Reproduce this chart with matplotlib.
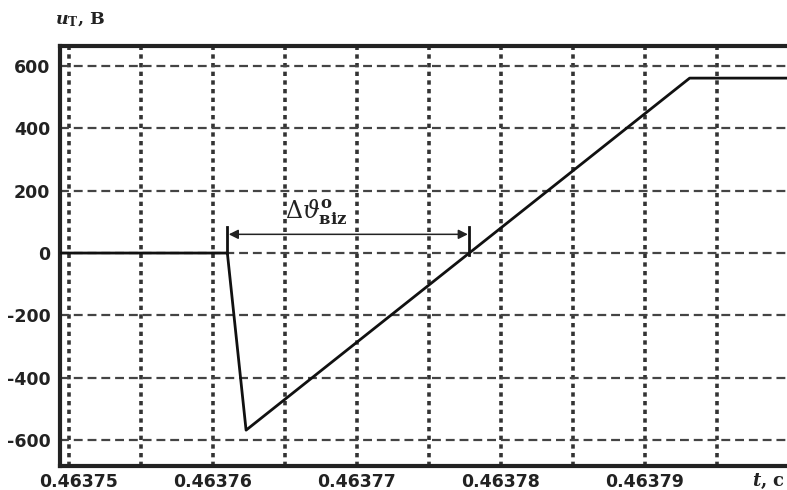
import matplotlib
matplotlib.use("Agg")
import matplotlib.pyplot as plt
import matplotlib.transforms as mtransforms
import numpy as np

# Transistor voltage waveform u_T(t)
t = [0.4637494, 0.4637610, 0.4637623, 0.4637931, 0.4638008]
u = [0, 0, -568, 561, 561]

x_ticks = [0.46375, 0.46376, 0.46377, 0.46378, 0.46379]
x_tick_labels = ["0.46375", "0.46376", "0.46377", "0.46378", "0.46379"]
x_minor = [0.463755, 0.463765, 0.463775, 0.463785, 0.463795, 0.46380]
y_ticks = [-600, -400, -200, 0, 200, 400, 600]

# interval marked on the plot: from switching instant to zero crossing
t_switch = t[1]
t_zero = t[2] + (0 - u[2]) / (u[3] - u[2]) * (t[3] - t[2])
arrow_level = 60

plt.rcParams["mathtext.fontset"] = "custom"
plt.rcParams["mathtext.rm"] = "DejaVu Serif"
plt.rcParams["mathtext.it"] = "DejaVu Serif:italic"
plt.rcParams["mathtext.bf"] = "DejaVu Serif:bold"
plt.rcParams["mathtext.bfit"] = "DejaVu Serif:italic:bold"

W, H = 787, 490
fig = plt.figure(figsize=(W / 100, H / 100), dpi=100)
ax = fig.add_axes([60 / W, 1 - 466 / H, 740 / W, 420 / H])

ax.set_xlim(0.46374938, 0.46380076)
ax.set_ylim(-683, 664)

grid_col = "#333333"
for xv in x_ticks + x_minor:
    ax.axvline(xv, color=grid_col, lw=2.6, ls=(0, (1.2, 1.2)), zorder=1)
for yv in y_ticks:
    ax.axhline(yv, color="#444444", lw=1.6, ls=(0, (4, 2.2)), zorder=1)

ax.plot(t, u, color="#111111", lw=2.0, zorder=3)

# dimension line for the interval
ax.plot([t_switch, t_switch], [0, arrow_level + 22], color="#111111", lw=2.0, zorder=3)
ax.plot([t_zero, t_zero], [-5, arrow_level + 25], color="#111111", lw=2.0, zorder=3)
ax.annotate("", xy=(t_switch, arrow_level), xytext=(t_zero, arrow_level),
            arrowprops=dict(arrowstyle="<|-|>", color="#222222", lw=1.1,
                            mutation_scale=14, shrinkA=1, shrinkB=1), zorder=3)
ax.text(0.46376500, arrow_level + 22, r"$\Delta\vartheta^{\mathbf{o}}_{\mathbf{віz}}$",
        fontsize=17, color="#222222", ha="left", va="bottom")

ax.set_xticks(x_ticks)
ax.set_xticklabels(x_tick_labels)
ax.set_yticks(y_ticks)
ax.set_yticklabels([str(v) for v in y_ticks])
ax.tick_params(length=0, labelsize=12.5, labelcolor="#222222")
for lab in ax.get_xticklabels() + ax.get_yticklabels():
    lab.set_fontweight("bold")
    lab.set_family("DejaVu Sans")
ax.tick_params(axis="x", pad=5)
ax.tick_params(axis="y", pad=7)

# nudge the first x label so it clears the left border
first = ax.get_xticklabels()[0]
first.set_transform(first.get_transform() +
                    mtransforms.ScaledTranslation(10 / 100, 0, fig.dpi_scale_trans))

for side in ["left", "top", "bottom"]:
    ax.spines[side].set_linewidth(3)
    ax.spines[side].set_color("#222222")
ax.spines["right"].set_visible(False)

fig.text(55 / W, 1 - 20 / H, r"$\mathbfit{u}_{\mathbf{T}}$, В", fontsize=12.5, fontweight="bold",
         family="DejaVu Serif", color="#222222", ha="left", va="center")
fig.text(752 / W, 1 - 481 / H, r"$\mathbfit{t}$, с", fontsize=13, fontweight="bold",
         family="DejaVu Serif", color="#222222", ha="left", va="center")

fig.savefig("out.png", dpi=100)
